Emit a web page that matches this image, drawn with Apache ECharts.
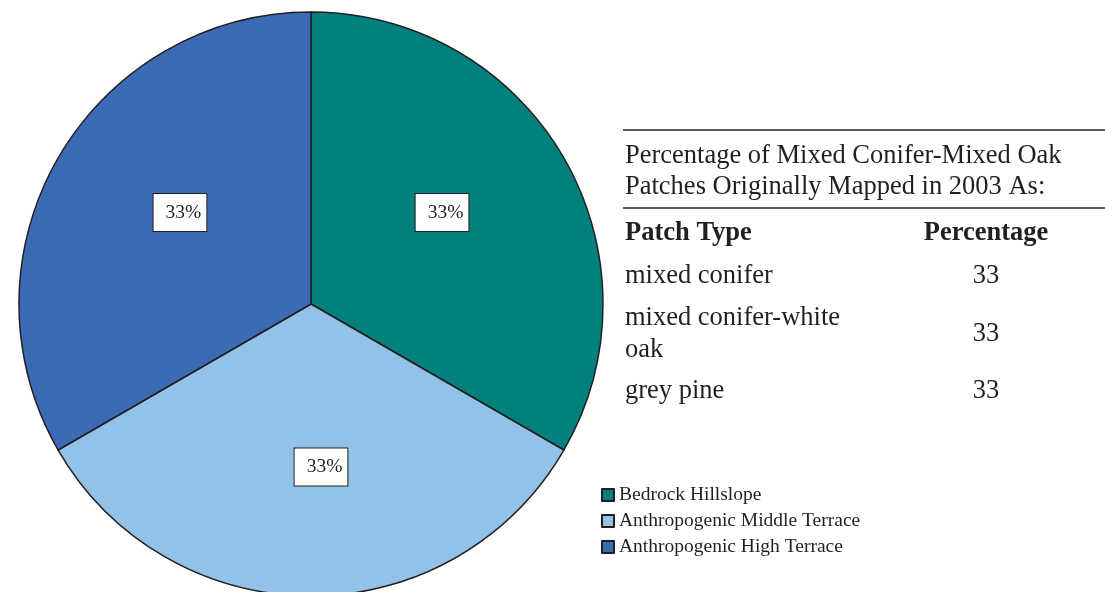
<!DOCTYPE html>
<html>
<head>
<meta charset="utf-8">
<script src="https://cdn.jsdelivr.net/npm/echarts@6/dist/echarts.min.js"></script>
<style>html,body{margin:0;padding:0;background:#fff}#c{width:1105px;height:592px}</style>
</head>
<body>
<div id="c"></div>
<script>
const categories = ['Bedrock Hillslope', 'Anthropogenic Middle Terrace', 'Anthropogenic High Terrace'];
const values = [33, 33, 33];
const colors = ['#00817E', '#92C2E8', '#3A6BB4'];
const tableTitle = ['Percentage of Mixed Conifer-Mixed Oak', 'Patches Originally Mapped in 2003 As:'];
const tableHeaders = ['Patch Type', 'Percentage'];
const patchTypes = ['mixed conifer', 'mixed conifer-white\noak', 'grey pine'];
const patchPercentages = [33, 33, 33];

const FONT = 'Liberation Serif';
const TXT = '#231F20';
const rowY = [276, 334, 391];
const labelShift = [[2, -17], [10, 14], [-2, -17]];

function txt(x, y, text, opts) {
  return Object.assign({ type: 'text', x: x, y: y, style: Object.assign({
    text: text, fontFamily: FONT, fontSize: 26.5, fill: TXT, verticalAlign: 'middle', align: 'left'
  }, opts || {}) });
}

const graphics = [
  { type: 'line', shape: { x1: 623, y1: 130, x2: 1105, y2: 130 }, style: { stroke: TXT, lineWidth: 1.5 } },
  { type: 'line', shape: { x1: 623, y1: 208, x2: 1105, y2: 208 }, style: { stroke: TXT, lineWidth: 1.5 } },
  txt(625, 156, tableTitle[0]),
  txt(625, 187, tableTitle[1]),
  txt(625, 233, tableHeaders[0], { fontWeight: 'bold' }),
  txt(986, 233, tableHeaders[1], { fontWeight: 'bold', align: 'center' })
];
patchTypes.forEach((p, i) => {
  graphics.push(txt(625, rowY[i], p, { lineHeight: 32 }));
  graphics.push(txt(986, rowY[i], String(patchPercentages[i]), { align: 'center' }));
});

const chart = echarts.init(document.getElementById('c'));
chart.setOption({
  animation: false,
  color: colors,
  legend: {
    orient: 'vertical', left: 596, top: 480,
    icon: 'rect', itemWidth: 12, itemHeight: 12, itemGap: 6,
    textStyle: { fontFamily: FONT, fontSize: 19.5, color: TXT },
    data: categories
  },
  graphic: graphics,
  series: [{
    type: 'pie',
    center: [311, 304],
    radius: [0, 292],
    startAngle: 90,
    clockwise: true,
    itemStyle: { borderColor: '#231F20', borderWidth: 1.5 },
    emphasis: { disabled: true },
    label: {
      show: true, position: 'inside', formatter: '{c}%',
      fontFamily: FONT, fontSize: 19.5, color: TXT,
      backgroundColor: '#fff', borderColor: '#231F20', borderWidth: 1,
      padding: [9, 5, 8, 12]
    },
    labelLayout: function (p) { return { dx: labelShift[p.dataIndex][0], dy: labelShift[p.dataIndex][1] }; },
    labelLine: { show: false },
    data: categories.map((n, i) => ({ name: n, value: values[i] }))
  }]
});
</script>
</body>
</html>
